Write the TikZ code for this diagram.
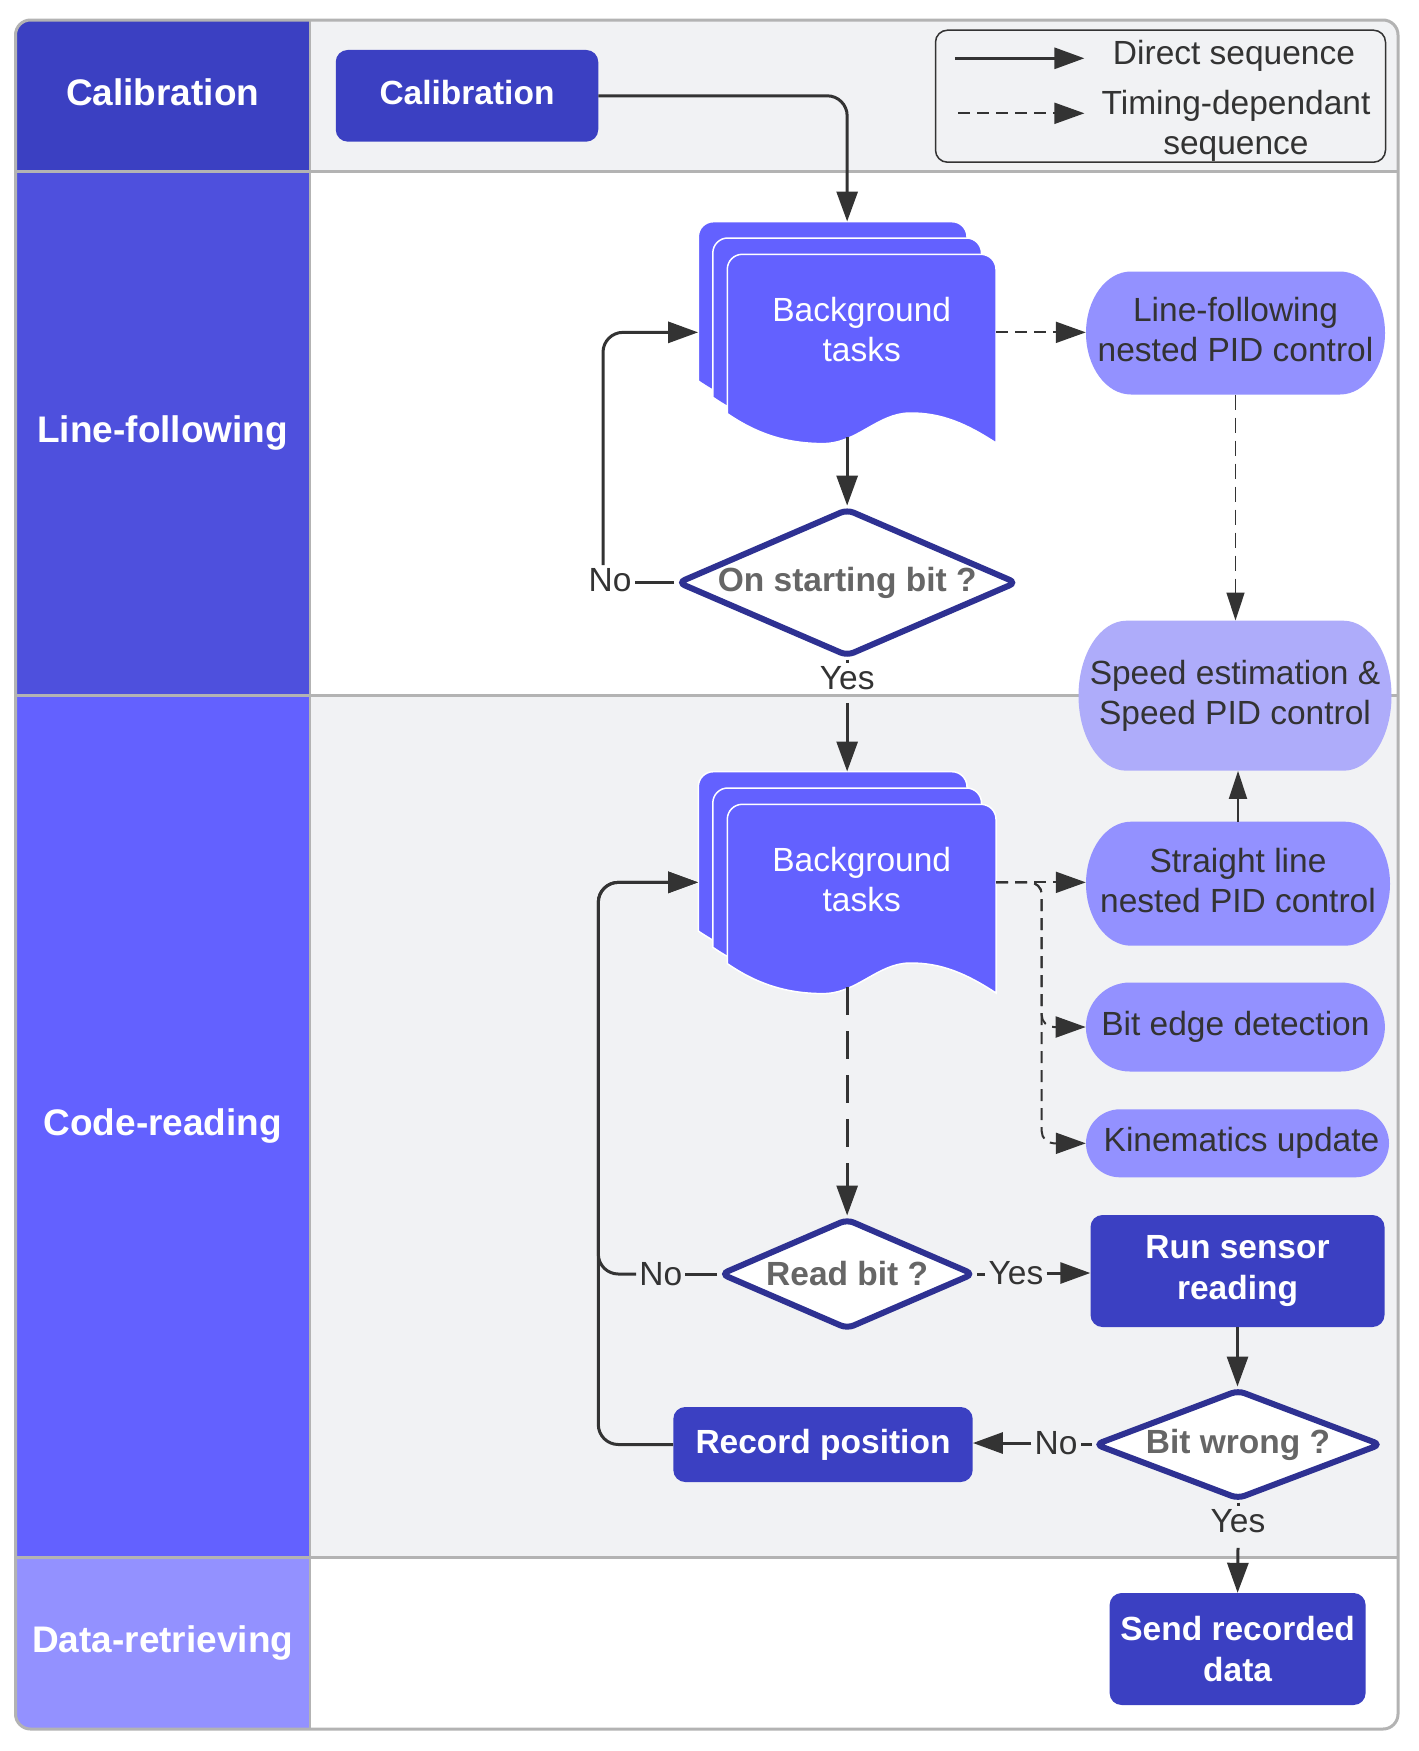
\documentclass[tikz,border=0pt]{standalone}
\usepackage{fontspec}
\setmainfont{Liberation Sans}
\usetikzlibrary{arrows.meta,shapes.geometric}

\definecolor{calib}{HTML}{3B40C2}
\definecolor{lfhead}{HTML}{4E50DD}
\definecolor{crhead}{HTML}{6361FF}
\definecolor{drhead}{HTML}{9391FF}
\definecolor{speedc}{HTML}{AEACFA}
\definecolor{lanegray}{HTML}{F1F2F4}
\definecolor{framec}{HTML}{B3B3B3}
\definecolor{qnavy}{HTML}{2E3192}
\definecolor{ink}{HTML}{333333}
\definecolor{qtext}{HTML}{666666}

\newcommand{\mynodefont}{\fontsize{33.5}{40.2}\selectfont}
\newcommand{\mylanefont}{\fontsize{37}{44}\selectfont}

% one sheet of the multi-document shape, top-left corner at (#1,#2)
\newcommand{\docsheet}[2]{%
 \filldraw[fill=crhead, draw=white, line width=1.5pt]
  ({#1},{#2+159.3}) -- ({#1},{#2+15}) .. controls ({#1},{#2+6.7}) and ({#1+6.7},{#2}) .. ({#1+15},{#2})
  -- ({#1+253.7},{#2}) .. controls ({#1+262},{#2}) and ({#1+268.7},{#2+6.7}) .. ({#1+268.7},{#2+15})
  -- ({#1+268.7},{#2+188.7}) .. controls ({#1+240},{#2+170}) and ({#1+215},{#2+158.5}) .. ({#1+182.7},{#2+158.7})
  .. controls ({#1+150},{#2+159}) and ({#1+130},{#2+189.3}) .. ({#1+95.7},{#2+189.3})
  .. controls ({#1+60},{#2+189.3}) and ({#1+30},{#2+180}) .. ({#1},{#2+159.3}) -- cycle;}
\newcommand{\stackshape}[2]{\docsheet{#1}{#2}\docsheet{#1+14.5}{#2+16.3}\docsheet{#1+29}{#2+32.6}}

% terminator with elliptic ends: cx cy w h rx fill
\newcommand{\termshape}[6]{%
 \fill[#6] ({#1-#3/2+#5},{#2-#4/2}) -- ({#1+#3/2-#5},{#2-#4/2})
  .. controls ({#1+#3/2-0.4477*#5},{#2-#4/2}) and ({#1+#3/2},{#2-0.5523*#4/2}) .. ({#1+#3/2},{#2})
  .. controls ({#1+#3/2},{#2+0.5523*#4/2}) and ({#1+#3/2-0.4477*#5},{#2+#4/2}) .. ({#1+#3/2-#5},{#2+#4/2})
  -- ({#1-#3/2+#5},{#2+#4/2})
  .. controls ({#1-#3/2+0.4477*#5},{#2+#4/2}) and ({#1-#3/2},{#2+0.5523*#4/2}) .. ({#1-#3/2},{#2})
  .. controls ({#1-#3/2},{#2-0.5523*#4/2}) and ({#1-#3/2+0.4477*#5},{#2-#4/2}) .. ({#1-#3/2+#5},{#2-#4/2}) -- cycle;}

\begin{document}
\begin{tikzpicture}[x=1pt, y=-1pt,
  conn/.style={draw=ink, line width=3pt},
  thinconn/.style={draw=ink, line width=2pt},
  dashc/.style={draw=ink, line width=2pt, dash pattern=on 12pt off 7pt},
  thindash/.style={draw=ink, line width=1.5pt, dash pattern=on 15pt off 8pt},
  longdash/.style={draw=ink, line width=3pt, dash pattern=on 28pt off 16pt},
  arr/.style={-{Triangle[length=30pt,width=21pt]}},
  arrthin/.style={-{Triangle[length=28pt,width=18pt]}},
  darkbox/.style={rectangle, rounded corners=12pt, fill=calib, text=white, font=\bfseries\mynodefont, align=center, inner sep=0pt},
  diam/.style={diamond, draw=qnavy, line width=6pt, fill=white, rounded corners=7pt, inner sep=0pt, font=\bfseries\mynodefont, text=qtext},
  term/.style={rectangle, text=ink, font=\mynodefont, align=center, inner sep=0pt},
  lbl/.style={text=ink, font=\mynodefont, inner sep=3pt},
  lanetext/.style={text=white, font=\bfseries\mylanefont},
  legtext/.style={text=ink, font=\mynodefont, align=center, inner sep=0pt},
  stacktext/.style={text=white, font=\mynodefont, align=center, inner sep=0pt}
]
\useasboundingbox (0,0) rectangle (1419,1751);
\fill[white] (0,0) rectangle (1419,1751);

% ---- swimlanes ----
\begin{scope}
\clip[rounded corners=15pt] (15.5,20) rectangle (1398,1729);
\fill[calib] (15.5,20) rectangle (310,171);
\fill[lanegray] (310,20) rectangle (1398,171);
\fill[lfhead] (15.5,171) rectangle (310,695.5);
\fill[white] (310,171) rectangle (1398,695.5);
\fill[crhead] (15.5,695.5) rectangle (310,1557.5);
\fill[lanegray] (310,695.5) rectangle (1398,1557.5);
\fill[drhead] (15.5,1557.5) rectangle (310,1729);
\fill[white] (310,1557.5) rectangle (1398,1729);
\end{scope}
\draw[framec, line width=2.5pt] (310,20) -- (310,1729);
\draw[framec, line width=3pt] (15.5,171) -- (1398,171);
\draw[framec, line width=3pt] (15.5,695.5) -- (1398,695.5);
\draw[framec, line width=3pt] (15.5,1557.5) -- (1398,1557.5);
\draw[framec, line width=3pt, rounded corners=15pt] (15.5,20) rectangle (1398,1729);

\node[lanetext] (hcal) at (162.75,92) {Calibration};
\node[lanetext] (hlf) at (162.75,433) {Line-following};
\node[lanetext] (hcr) at (162.75,1126) {Code-reading};
\node[lanetext] (hdr) at (162.75,1643) {Data-retrieving};

% ---- legend ----
\node[draw=ink, line width=1.5pt, rounded corners=12pt, fill=lanegray, minimum width=450pt, minimum height=132pt, inner sep=0pt] (lg) at (1160.5,96.2) {};
\coordinate (la1) at (954.8,58.3);
\coordinate (la2) at (1084.4,58.3);
\coordinate (lb1) at (958,113.3);
\coordinate (lb2) at (1084.4,113.3);
\node[legtext] (lgt1) at (1234,56) {Direct sequence};
\node[legtext] (lgt2) at (1236,125.5) {Timing-dependant\\sequence};
\draw[conn, arr] (la1) -- (la2);
\draw[dashc, arr] (lb1) -- (lb2);

% ---- stacks ----
\stackshape{698.3}{221.7}
\stackshape{698.3}{771.7}
\node[minimum width=297.7pt, minimum height=221.3pt, inner sep=0pt] (bt1) at (847.15,332.35) {};
\node[minimum width=297.7pt, minimum height=221.3pt, inner sep=0pt] (bt2) at (847.15,882.35) {};
\node[stacktext, text depth=4pt] (bt1t) at (861.7,331) {Background\\tasks};
\node[stacktext, text depth=4pt] (bt2t) at (861.7,881) {Background\\tasks};

% ---- terminators ----
\termshape{1235.5}{333}{299}{123}{45}{drhead}
\node[term, minimum width=299pt, minimum height=123pt, text depth=7pt] (lf) at (1235.5,333) {Line-following\\nested PID control};
\termshape{1235}{695.7}{313}{150}{48}{speedc}
\node[term, minimum width=313pt, minimum height=150pt] (sp) at (1235,695.7) {Speed estimation \&\\Speed PID control};
\termshape{1238}{883.7}{304}{124}{45}{drhead}
\node[term, minimum width=304pt, minimum height=124pt, text depth=7pt] (sl) at (1238,883.7) {Straight line\\nested PID control};
\termshape{1235.4}{1027}{299}{89}{44}{drhead}
\node[term, minimum width=299pt, minimum height=89pt] (be) at (1235.4,1027) {Bit edge detection};
\termshape{1237.5}{1143.3}{303}{68}{34}{drhead}
\node[term, minimum width=303pt, minimum height=68pt] (ku) at (1237.5,1143.3) {\hspace*{8pt}Kinematics update};

% ---- dark boxes ----
\node[darkbox, minimum width=262.5pt, minimum height=91.7pt, text depth=7pt] (cal) at (467,95.8) {Calibration};
\node[darkbox, minimum width=294pt, minimum height=112pt] (rs) at (1237.5,1271) {Run sensor\\reading};
\node[darkbox, minimum width=299.4pt, minimum height=75pt] (rp) at (823,1444.5) {Record position};
\node[darkbox, minimum width=256pt, minimum height=112pt] (sd) at (1237.6,1649) {Send recorded\\data};

% ---- decisions ----
\node[diam, minimum width=340pt, minimum height=148pt] (d1) at (847.15,582.6) {\makebox[0pt]{On starting bit ?}};
\node[diam, minimum width=254pt, minimum height=111pt] (rb) at (847.15,1274) {\makebox[0pt]{Read bit ?}};
\node[diam, minimum width=287pt, minimum height=110pt] (bw) at (1238,1444.5) {\makebox[0pt]{Bit wrong ?}};

% ---- labels ----
\node[lbl] (no1) at (610,580) {No};
\node[lbl] (yes1) at (847.15,678) {Yes};
\node[lbl] (no2) at (660.8,1274) {No};
\node[lbl] (yes2) at (1016,1273) {Yes};
\node[lbl] (no3) at (1056,1443) {No};
\node[lbl] (yes3) at (1238,1521) {Yes};
\coordinate (lp1) at (603,565);
\coordinate (lp2) at (598.3,1000);
\coordinate (j1) at (1041.7,1027);
\coordinate (j2) at (1041.7,1143.3);

% ---- connectors ----
\draw[conn, arr, rounded corners=20pt] (cal.east) -| (bt1.north);
\draw[conn, arr] ([yshift=6pt]bt1.south) -- (d1.north);
\draw[conn] (d1.west) -- (d1.west -| no1.east);
\draw[conn, arr, rounded corners=20pt] (lp1) |- (bt1.west);
\draw[dashc, arr] (bt1.east) -- (bt1.east -| lf.west);
\draw[thindash, arrthin] (lf.south) -- (lf.south |- sp.north);
\draw[conn] (d1.south) -- (yes1.north);
\draw[conn, arr] ([yshift=-10pt]yes1.south) -- (bt2.north);
\draw[dashc, arr] (bt2.east) -- (bt2.east -| sl.west);
\draw[dashc, arr, rounded corners=12pt] (bt2.east) -| (j1) -- (be.west);
\draw[dashc, arr, rounded corners=12pt] (bt2.east) -| (j2) -- (ku.west);
\draw[thinconn, arrthin] (sl.north) -- (sl.north |- sp.south);
\draw[longdash, arr] ([yshift=6pt]bt2.south) -- (rb.north);
\draw[conn] (rb.west) -- (rb.west -| no2.east);
\draw[conn, arr, rounded corners=20pt] (no2.west) -| (bt2.west -| lp2) -- (bt2.west);
\draw[conn] (rb.east) -- (rb.east -| yes2.west);
\draw[conn, arr] (yes2.east) -- (yes2.east -| rs.west);
\draw[conn, arr] (rs.south) -- (rs.south |- bw.north);
\draw[conn] (bw.west) -- (bw.west -| no3.east);
\draw[conn, arr] (no3.west) -- (no3.west -| rp.east);
\draw[conn, arr, rounded corners=20pt] (rp.west) -| (bt2.west -| lp2) -- (bt2.west);
\draw[conn] (bw.south) -- (yes3.north);
\draw[conn, arr] ([yshift=-12pt]yes3.south) -- (sd.north);
\end{tikzpicture}
\end{document}
